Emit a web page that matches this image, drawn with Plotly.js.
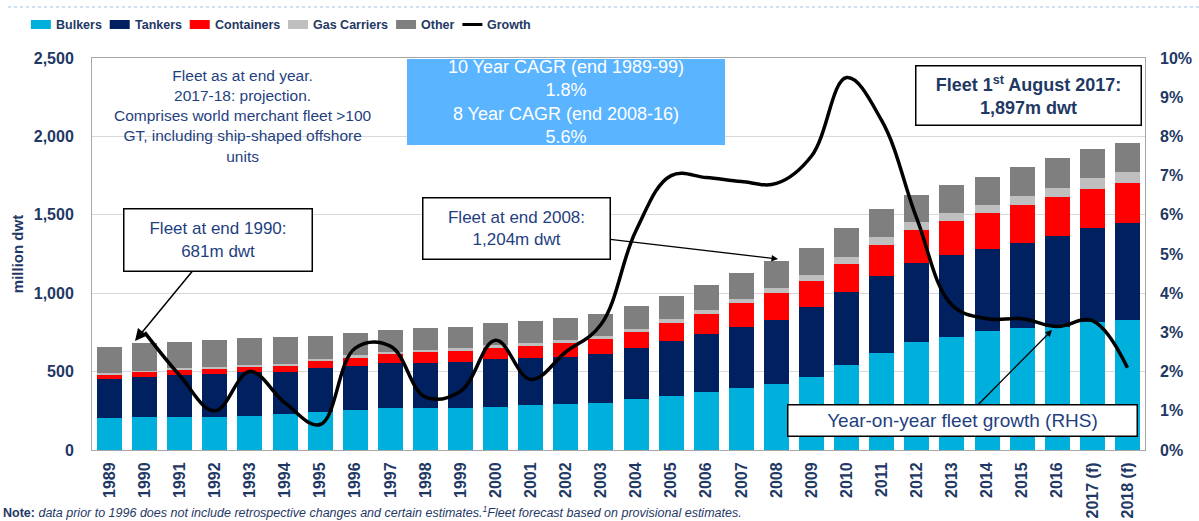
<!DOCTYPE html>
<html>
<head>
<meta charset="utf-8">
<script src="https://cdn.plot.ly/plotly-3.0.1.min.js"></script>
<style>
  html, body { margin: 0; padding: 0; background: #fff; }
  #chart { width: 1199px; height: 521px; }
</style>
</head>
<body>
<div id="chart"></div>
<script>
// ---------- DATA ----------
const years = ['1989','1990','1991','1992','1993','1994','1995','1996','1997','1998','1999','2000','2001','2002','2003','2004','2005','2006','2007','2008','2009','2010','2011','2012','2013','2014','2015','2016','2017 (f)','2018 (f)'];
const seriesNames = ['Bulkers','Tankers','Containers','Gas Carriers','Other'];
const bulkers     = [202,213,213,213,219,228,244,255,266,268,270,272,287,293,302,323,344,368,393,419,464,542,621,687,723,759,776,787,818,829];
const tankers     = [249,253,265,270,276,272,277,283,287,285,293,306,298,302,310,326,351,372,393,413,446,464,491,508,521,523,542,578,600,617];
const containers  = [27,29,32,34,36,38,49,51,59,70,68,71,80,89,94,101,113,127,150,167,168,180,195,208,216,228,245,247,249,259];
const gasCarriers = [10,11,11,12,12,13,13,14,15,16,17,18,19,20,21,23,25,27,29,33,40,46,49,50,52,54,57,61,66,70];
const other       = [171,174,170,173,169,172,146,141,138,137,139,141,139,140,140,147,149,158,162,172,172,182,179,173,178,179,183,187,185,185];
const growthPct   = [null,3.0,1.9,1.0,2.0,1.2,0.65,2.6,2.65,1.35,1.5,2.8,1.8,2.5,3.2,5.6,7.0,6.95,6.85,6.8,7.5,9.5,8.4,5.9,3.7,3.35,3.35,3.15,3.3,2.1];
const growthName  = 'Growth';

// ---------- STYLE ----------
const seriesColors = ['#00B0DC','#002060','#FF0000','#BFBFBF','#7F7F7F'];
const navy = '#1F3864';
const textBlue = '#1F3F7F';
const FONT = '"Liberation Sans", Arial, sans-serif';

const W = 1199, H = 521;
const L = 92, R = 1145, T = 58, B = 450;
const px = x => (x - L) / (R - L);
const py = y => (B - y) / (B - T);

const seriesData = [bulkers, tankers, containers, gasCarriers, other];

const traces = seriesData.map((vals, i) => ({
  type: 'bar',
  name: seriesNames[i],
  x: years,
  y: vals,
  marker: { color: seriesColors[i], line: { width: 0 } },
  yaxis: 'y',
  hoverinfo: 'x+y+name'
}));

traces.push({
  type: 'scatter',
  mode: 'lines',
  name: growthName,
  x: years,
  y: growthPct,
  yaxis: 'y2',
  line: { color: '#000000', width: 3.5, shape: 'spline', smoothing: 1.1 },
  connectgaps: false
});

// ---------- ANNOTATIONS / SHAPES ----------
const annotations = [];
const shapes = [];

function box(x0, y0, x1, y1, text, font, opts) {
  opts = opts || {};
  const bw = opts.borderwidth !== undefined ? opts.borderwidth : 1.5;
  const cx = (x0 + x1) / 2, cy = (y0 + y1) / 2;
  const a = {
    xref: 'paper', yref: 'paper',
    xanchor: 'center', yanchor: 'middle',
    width: (x1 - x0) - 2 * bw,
    height: (y1 - y0) - 2 * bw,
    borderwidth: bw, borderpad: 0,
    bordercolor: opts.bordercolor || '#000000',
    bgcolor: opts.bgcolor || '#FFFFFF',
    align: 'center', valign: 'middle',
    text: text, font: font
  };
  if (opts.tip) {
    a.x = px(opts.tip[0]); a.y = py(opts.tip[1]);
    a.ax = cx - opts.tip[0]; a.ay = cy - opts.tip[1];
    a.showarrow = true; a.arrowhead = 2;
    a.arrowsize = opts.arrowsize || 1; a.arrowwidth = opts.arrowwidth || 1.3;
    a.arrowcolor = '#000000'; a.standoff = 0;
  } else {
    a.x = px(cx); a.y = py(cy); a.showarrow = false;
  }
  annotations.push(a);
}

// Note text (top-left, no box)
annotations.push({
  xref: 'paper', yref: 'paper', x: px(243), y: py(116),
  xanchor: 'center', yanchor: 'middle', showarrow: false, align: 'center',
  text: 'Fleet as at end year.<br>2017-18: projection.<br>Comprises world merchant fleet >100<br>GT, including ship-shaped offshore<br>units',
  font: { family: FONT, size: 15.5, color: textBlue }
});

// CAGR box
box(407, 59, 725, 145,
  '10 Year CAGR (end 1989-99)<br>1.8%<br>8 Year CAGR (end 2008-16)<br>5.6%',
  { family: FONT, size: 18, color: '#FFFFFF' },
  { bgcolor: '#5AB4FF', bordercolor: 'rgba(0,0,0,0)', borderwidth: 0 });

// Fleet 1st August 2017 box
box(915, 65, 1142, 126,
  '<b>Fleet 1<sup>st</sup> August 2017:<br>1,897m dwt</b>',
  { family: FONT, size: 18, color: navy });

// 1990 box + arrow
box(123, 208, 313, 272, 'Fleet at end 1990:<br>681m dwt',
  { family: FONT, size: 17, color: textBlue },
  { tip: [135, 341], arrowsize: 1.6, arrowwidth: 1.5 });

// 2008 box + arrow
box(422, 197, 611, 260, 'Fleet at end 2008:<br>1,204m dwt',
  { family: FONT, size: 17, color: textBlue },
  { tip: [778, 259], arrowsize: 1, arrowwidth: 1.3 });

// YoY box + arrow
box(787, 404, 1138, 437, 'Year-on-year fleet growth (RHS)',
  { family: FONT, size: 19, color: textBlue },
  { tip: [1052, 330], arrowsize: 1, arrowwidth: 1.3 });

// Custom legend, laid out from measured text widths
const LEG_SIZE = 12.5;
const ctx = document.createElement('canvas').getContext('2d');
ctx.font = 'bold ' + LEG_SIZE + 'px "Liberation Sans", Arial, sans-serif';
const legNames = seriesNames.concat([growthName]);
const symW = 20, symGap = 3, itemGap = 10;
const widths = legNames.map(n => ctx.measureText(n).width);
const total = widths.reduce((s, w) => s + w, 0) + legNames.length * (symW + symGap) + (legNames.length - 1) * itemGap;
let cur = 280 - total / 2;
legNames.forEach((n, i) => {
  if (i < seriesNames.length) {
    shapes.push({
      type: 'rect', xref: 'paper', yref: 'paper',
      x0: px(cur), x1: px(cur + symW), y0: py(29), y1: py(20),
      fillcolor: seriesColors[i], line: { width: 0 }
    });
  } else {
    shapes.push({
      type: 'line', xref: 'paper', yref: 'paper',
      x0: px(cur), x1: px(cur + symW), y0: py(24.5), y1: py(24.5),
      line: { color: '#000000', width: 3 }
    });
  }
  annotations.push({
    xref: 'paper', yref: 'paper', x: px(cur + symW + symGap), y: py(25),
    xanchor: 'left', yanchor: 'middle', showarrow: false,
    text: '<b>' + n + '</b>', font: { family: FONT, size: LEG_SIZE, color: navy }
  });
  cur += symW + symGap + widths[i] + itemGap;
});

// Header dotted line
shapes.push({
  type: 'line', xref: 'paper', yref: 'paper',
  x0: px(8), x1: px(1199), y0: py(7), y1: py(7),
  line: { color: '#9DC3E6', width: 1, dash: 'dot' }
});

// Footnote
annotations.push({
  xref: 'paper', yref: 'paper', x: px(1), y: py(512),
  xanchor: 'left', yanchor: 'middle', showarrow: false, align: 'left',
  text: '<b>Note:</b> <i>data prior to 1996 does not include retrospective changes and certain estimates.<sup>1</sup>Fleet forecast based on provisional estimates.</i>',
  font: { family: FONT, size: 12.5, color: navy }
});

const layout = {
  width: W, height: H,
  margin: { l: L, r: W - R, t: T, b: H - B, pad: 0 },
  paper_bgcolor: '#FFFFFF', plot_bgcolor: '#FFFFFF',
  barmode: 'stack', bargap: 0.29,
  showlegend: false,
  font: { family: FONT, color: navy },
  xaxis: {
    type: 'category', tickangle: -90,
    tickfont: { family: FONT, size: 16, color: navy, weight: 'bold' },
    showline: true, linecolor: '#A6A6A6', linewidth: 1, mirror: true,
    ticks: '', ticklabelstandoff: 5, automargin: false, fixedrange: true
  },
  yaxis: {
    range: [0, 2500], dtick: 500, tickformat: ',d',
    showgrid: true, gridcolor: '#D9D9D9', gridwidth: 1,
    zeroline: false, showline: true, linecolor: '#A6A6A6', linewidth: 1, mirror: true,
    ticks: '', ticklabelstandoff: 14,
    tickfont: { family: FONT, size: 16, color: navy, weight: 'bold' },
    title: { text: 'million dwt', standoff: 6, font: { family: FONT, size: 15, color: navy, weight: 'bold' } },
    automargin: false, fixedrange: true
  },
  yaxis2: {
    overlaying: 'y', side: 'right',
    range: [0, 10], dtick: 1, ticksuffix: '%',
    showgrid: false, zeroline: false, showline: false,
    ticks: '', ticklabelstandoff: 14,
    tickfont: { family: FONT, size: 16, color: navy, weight: 'bold' },
    automargin: false, fixedrange: true
  },
  annotations: annotations,
  shapes: shapes
};

Plotly.newPlot('chart', traces, layout, { displayModeBar: false, staticPlot: true });
</script>
</body>
</html>
